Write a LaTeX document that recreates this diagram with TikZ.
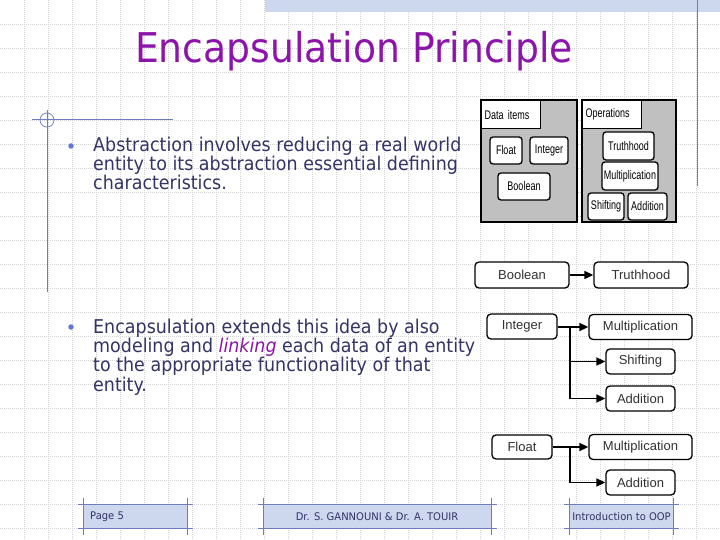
\documentclass[tikz,border=0pt]{standalone}
\usepackage{fontspec}
\setmainfont{DejaVu Sans}
\newfontfamily\tahoma[FakeStretch=0.92]{DejaVu Sans}
\newfontfamily\titlefont[FakeStretch=0.92]{DejaVu Sans}
\newfontfamily\arialn[FakeStretch=0.72]{Liberation Sans}
\newfontfamily\arial{Liberation Sans}
\newfontfamily\footfont[FakeStretch=0.95]{DejaVu Sans}
\usetikzlibrary{arrows.meta}
\definecolor{titlec}{RGB}{140,20,170}
\definecolor{bodyc}{RGB}{51,51,102}
\definecolor{linec}{RGB}{110,125,185}
\definecolor{bulletc}{RGB}{100,120,210}
\definecolor{hatchc}{RGB}{205,216,238}
\definecolor{gridc}{RGB}{212,212,212}
\definecolor{panelc}{RGB}{192,192,192}
\definecolor{boxtext}{RGB}{50,50,50}
\tikzset{
  gridline/.style={gridc, line width=0.7pt, dash pattern=on 1pt off 1pt},
  bodyline/.style={anchor=base west, inner sep=0pt, text=bodyc, font=\tahoma\fontsize{19}{19}\selectfont},
  panel/.style={draw=black, line width=1.6pt, fill=panelc, inner sep=0pt},
  plabel/.style={draw=black, line width=1.2pt, fill=white, inner sep=0pt, font=\arialn\fontsize{12.5}{12}\selectfont},
  pbox/.style={draw=black, line width=1.3pt, fill=white, rounded corners=3pt, inner sep=0pt, font=\arialn\fontsize{12.5}{12}\selectfont},
  dbox/.style={draw=black, line width=1.3pt, fill=white, rounded corners=4pt, inner sep=0pt, text=boxtext, font=\arial\fontsize{13}{13}\selectfont},
  conn/.style={draw=black, line width=1.6pt},
  arr/.style={conn, -{Triangle[length=9pt,width=8pt]}},
  footbox/.style={fill=hatchc, inner sep=0pt},
  footline/.style={linec, line width=0.9pt},
  foottext/.style={text=bodyc, inner sep=0pt, font=\footfont\fontsize{10.5}{11}\selectfont},
  bullet/.style={circle, fill=bulletc, inner sep=0pt, minimum size=5.5pt}
}
\begin{document}
\begin{tikzpicture}[x=1pt,y=-1pt]
\useasboundingbox (0,0) rectangle (720,540);
\fill[white] (0,0) rectangle (720,540);
% grid
\foreach \x in {24,48,...,696} \draw[gridline] (\x,0) -- (\x,540);
\foreach \y in {24,48,...,528} \draw[gridline] (0,\y) -- (720,\y);
% top band
\fill[hatchc] (265,0) rectangle (720,12);
% decorations
\draw[linec, line width=0.9pt] (697,0) -- (697,186);
\draw[linec, line width=0.9pt] (32,119) -- (173,119);
\draw[linec, line width=0.9pt] (47,110) -- (47,292);
\draw[linec, line width=0.7pt] (47,120) circle (7);
% title
\node[inner sep=0pt, text=titlec, font=\titlefont\fontsize{41}{41}\selectfont] (title) at (354,51) {Encapsulation Principle};
% bullets and text
\node[bullet] (b1) at (71,146) {};
\node[bodyline] (t1a) at (93,152) {Abstraction involves reducing a real world};
\node[bodyline] (t1b) at (93,171) {entity to its abstraction essential defining};
\node[bodyline] (t1c) at (93,190) {characteristics.};
\node[bullet] (b2) at (71,327) {};
\node[bodyline] (t2a) at (93,333) {Encapsulation extends this idea by also};
\node[bodyline] (t2b) at (93,352) {modeling and \textcolor{titlec}{\itshape linking} each data of an entity};
\node[bodyline] (t2c) at (93,371) {to the appropriate functionality of that};
\node[bodyline] (t2d) at (93,391) {entity.};
% top-right panels
\node[panel, minimum width=96pt, minimum height=122pt] (dpanel) at (529,161) {};
\node[plabel, minimum width=59pt, minimum height=28pt, anchor=north west, align=left, text width=53pt] (dlabel) at (481,100) {Data items};
\node[pbox, minimum width=32pt, minimum height=27pt] (pfloat) at (506,150.5) {Float};
\node[pbox, minimum width=38pt, minimum height=27pt] (pint) at (549,150.5) {Integer};
\node[pbox, minimum width=52pt, minimum height=27pt] (pbool) at (524,186.5) {Boolean};
\node[panel, minimum width=94pt, minimum height=122pt] (opanel) at (629,161) {};
\node[plabel, minimum width=59pt, minimum height=28pt, anchor=north west, align=left, text width=53pt] (olabel) at (582,100) {Operations};
\node[pbox, minimum width=51pt, minimum height=28pt] (ptruth) at (628.5,146) {Truthhood};
\node[pbox, minimum width=56pt, minimum height=28pt] (pmul) at (630,176) {Multiplication};
\node[pbox, minimum width=36pt, minimum height=27pt] (pshift) at (606,206.5) {Shifting};
\node[pbox, minimum width=39pt, minimum height=27pt] (padd) at (647.5,206.5) {Addition};
% bottom-right diagram
\node[dbox, minimum width=94pt, minimum height=26pt] (bBool) at (522,275) {Boolean};
\node[dbox, minimum width=94pt, minimum height=26pt] (bTruth) at (641,275) {Truthhood};
\node[dbox, minimum width=70pt, minimum height=25pt] (bInt) at (522,326.5) {Integer};
\node[dbox, minimum width=103pt, minimum height=25pt] (bMul1) at (640.5,327) {Multiplication};
\node[dbox, minimum width=69pt, minimum height=25pt] (bShift) at (640.5,361.5) {Shifting};
\node[dbox, minimum width=69pt, minimum height=25pt] (bAdd1) at (640.5,398.5) {Addition};
\node[dbox, minimum width=60pt, minimum height=24pt] (bFloat) at (522,447) {Float};
\node[dbox, minimum width=103pt, minimum height=25pt] (bMul2) at (640.5,447) {Multiplication};
\node[dbox, minimum width=69pt, minimum height=25pt] (bAdd2) at (640.5,482.5) {Addition};
\coordinate (jI) at (570,327);
\coordinate (jF) at (570,447);
\draw[arr] (bBool.east) -- (bTruth.west);
\draw[conn] (bInt.east |- jI) -- (jI);
\draw[arr] (jI) -- (bMul1.west);
\draw[arr] (jI) |- (bShift.west);
\draw[arr] (jI) |- (bAdd1.west);
\draw[conn] (bFloat.east) -- (jF);
\draw[arr] (jF) -- (bMul2.west);
\draw[arr] (jF) |- (bAdd2.west);
% footer
\node[footbox, minimum width=103pt, minimum height=23pt] (f1) at (135.5,516.5) {};
\node[footbox, minimum width=227pt, minimum height=23pt] (f2) at (377.5,516.5) {};
\node[footbox, minimum width=103pt, minimum height=23pt] (f3) at (621.5,516.5) {};
\foreach \f in {f1,f2,f3}{
  \draw[footline] ([xshift=-6pt]\f.north west) -- ([xshift=6pt]\f.north east);
  \draw[footline] ([xshift=-6pt]\f.south west) -- ([xshift=6pt]\f.south east);
  \draw[footline] ([yshift=7pt]\f.north west) -- ([yshift=-7pt]\f.south west);
  \draw[footline] ([yshift=7pt]\f.north east) -- ([yshift=-7pt]\f.south east);
}
\node[foottext, anchor=west] (ft1) at (90,517) {Page 5};
\node[foottext] (ft2) at (377,517) {Dr. S. GANNOUNI \& Dr. A. TOUIR};
\node[foottext] (ft3) at (621.5,517) {Introduction to OOP};
\end{tikzpicture}
\end{document}
